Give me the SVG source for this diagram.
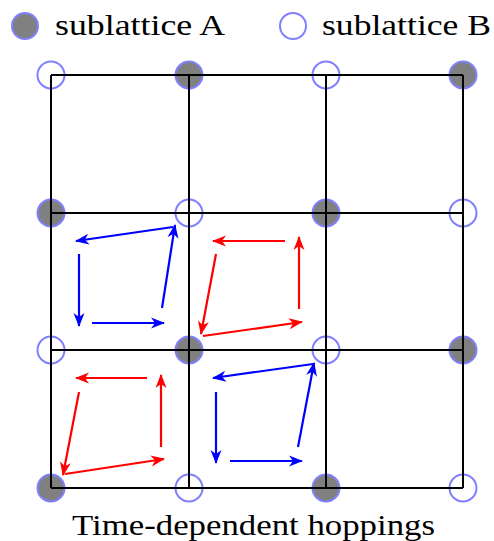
<svg xmlns="http://www.w3.org/2000/svg" width="494" height="541" viewBox="0 0 494 541">
<defs>
<style>
.a{fill:#808080;stroke:#8080ff;stroke-width:2}
.b{fill:#ffffff;stroke:#8080ff;stroke-width:2}
.grid{stroke:#000;stroke-width:2;fill:none}
.txt{font-family:"Liberation Serif","Times New Roman",serif;font-size:30px;fill:#000}
.blue{stroke:#0000ff;stroke-width:2.2;fill:none;marker-end:url(#hb)}
.red{stroke:#ff0000;stroke-width:2.2;fill:none;marker-end:url(#hr)}
</style>
<marker id="hb" markerUnits="userSpaceOnUse" markerWidth="16" markerHeight="12" refX="14" refY="6" orient="auto" viewBox="0 0 16 12">
<path d="M15,6 L1,0.5 L5,6 L1,11.5 Z" fill="#0000ff"/>
</marker>
<marker id="hr" markerUnits="userSpaceOnUse" markerWidth="16" markerHeight="12" refX="14" refY="6" orient="auto" viewBox="0 0 16 12">
<path d="M15,6 L1,0.5 L5,6 L1,11.5 Z" fill="#ff0000"/>
</marker>
</defs>
<rect width="494" height="541" fill="#ffffff"/>
<g id="legend">
<circle class="a" cx="25" cy="26" r="13"/>
<text class="txt" x="55" y="35" textLength="170" lengthAdjust="spacingAndGlyphs">sublattice A</text>
<circle class="b" cx="293" cy="26" r="13"/>
<text class="txt" x="322" y="35" textLength="169" lengthAdjust="spacingAndGlyphs">sublattice B</text>
</g>
<g id="sites">
<circle id="s00" class="b" cx="51" cy="75" r="13.5"/>
<circle id="s10" class="a" cx="189" cy="75" r="13.5"/>
<circle id="s20" class="b" cx="326" cy="75" r="13.5"/>
<circle id="s30" class="a" cx="463" cy="75" r="13.5"/>
<circle id="s01" class="a" cx="51" cy="213" r="13.5"/>
<circle id="s11" class="b" cx="189" cy="213" r="13.5"/>
<circle id="s21" class="a" cx="326" cy="213" r="13.5"/>
<circle id="s31" class="b" cx="463" cy="213" r="13.5"/>
<circle id="s02" class="b" cx="51" cy="350" r="13.5"/>
<circle id="s12" class="a" cx="189" cy="350" r="13.5"/>
<circle id="s22" class="b" cx="326" cy="350" r="13.5"/>
<circle id="s32" class="a" cx="463" cy="350" r="13.5"/>
<circle id="s03" class="a" cx="51" cy="488" r="13.5"/>
<circle id="s13" class="b" cx="189" cy="488" r="13.5"/>
<circle id="s23" class="a" cx="326" cy="488" r="13.5"/>
<circle id="s33" class="b" cx="463" cy="488" r="13.5"/>
</g>
<g id="grid" class="grid">
<path d="M51,75 H463 M51,213 H463 M51,350 H463 M51,488 H463 M51,75 V488 M189,75 V488 M326,75 V488 M463,75 V488"/>
</g>
<g id="connectors">
<path class="blue" d="M162,308 L175,225"/>
<path class="blue" d="M173,227 L76,241"/>
<path class="blue" d="M79,254 L79,326"/>
<path class="blue" d="M92,323 L164,323"/>
<path class="red" d="M285,241 L213,241"/>
<path class="red" d="M216,254 L201,334"/>
<path class="red" d="M203,336 L302,322"/>
<path class="red" d="M299,309 L299,237"/>
<path class="red" d="M147,378 L76,378"/>
<path class="red" d="M79,392 L63,475"/>
<path class="red" d="M65,474 L164,459"/>
<path class="red" d="M161,447 L161,375"/>
<path class="blue" d="M298,447 L314,363"/>
<path class="blue" d="M313,364 L213,378"/>
<path class="blue" d="M216,392 L216,463"/>
<path class="blue" d="M230,461 L302,461"/>
</g>
<text class="txt" x="72" y="535" textLength="363" lengthAdjust="spacingAndGlyphs">Time-dependent hoppings</text>
</svg>
